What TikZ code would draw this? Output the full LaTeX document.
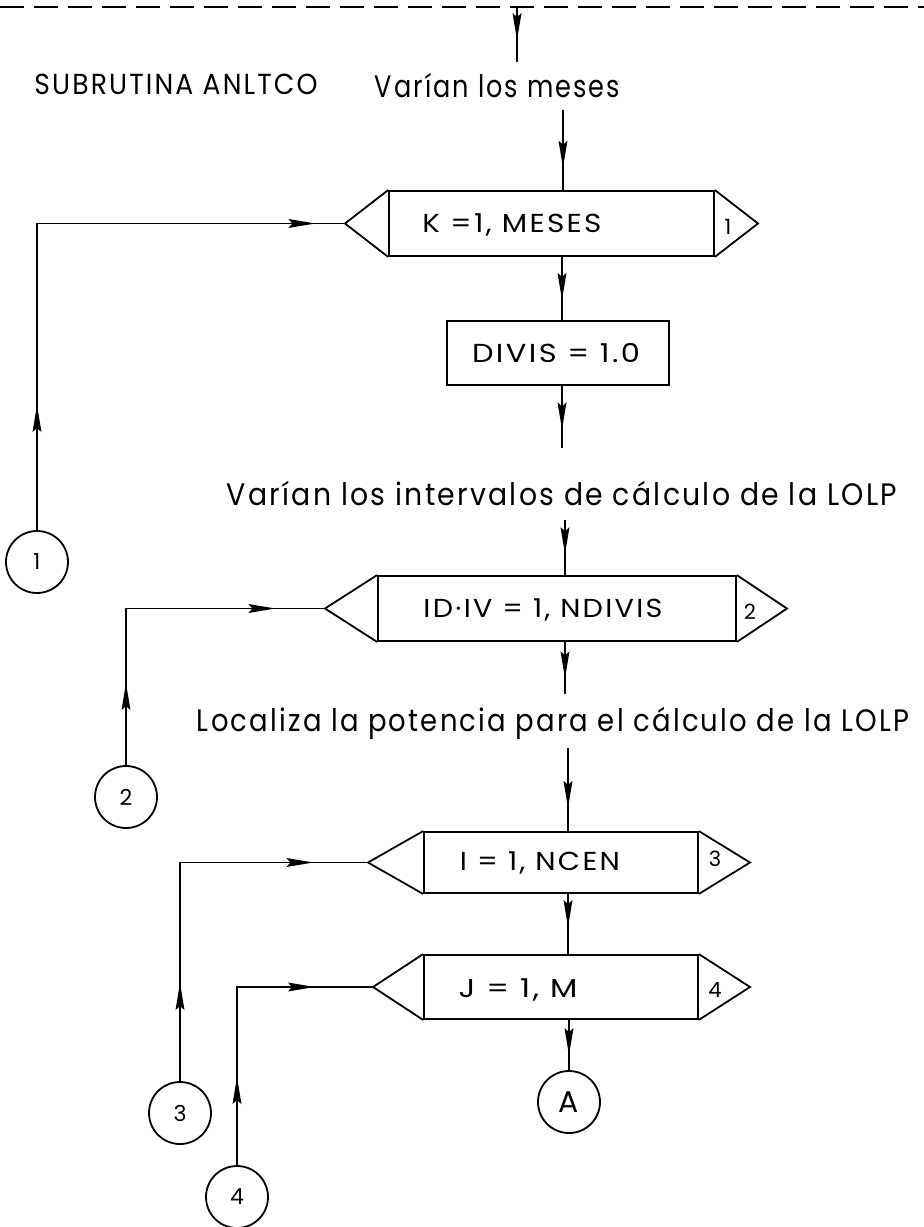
\documentclass[tikz,border=0pt]{standalone}
\usepackage{fontspec}
\usepackage{graphicx}
\usetikzlibrary{arrows.meta,decorations.markings}
\newfontfamily\letr[LetterSpace=8]{Poppins}
\newcommand{\fitw}[2]{\resizebox{#1}{\height}{#2}}

\tikzset{
  x=1pt, y=-1pt,
  line/.style={line width=1.8pt},
  % long narrow flow arrowhead, tip at the marked point
  arrowat/.style={postaction={decorate,decoration={markings,
      mark=at position #1 with {\fill[black] (0pt,0pt) -- (-27pt,4.5pt) -- (-23pt,0pt)
        -- (-27pt,-4.5pt) -- cycle;}}}},
  rectbox/.style={draw, line width=1.8pt, rectangle, inner sep=0pt},
  sentence/.style={inner sep=0pt, font=\letr\fontsize{31}{34}\selectfont},
  boxtext/.style={inner sep=0pt, font=\letr\fontsize{26}{30}\selectfont},
  looplabel/.style={inner sep=0pt, font=\letr\fontsize{21}{24}\selectfont},
  connector/.style={draw, circle, line width=1.8pt, minimum size=62pt, inner sep=0pt,
      font=\letr\fontsize{22}{24}\selectfont},
}

\begin{document}
\begin{tikzpicture}
\useasboundingbox (0,0) rectangle (924,1227);
\fill[white] (0,0) rectangle (924,1227);

% dashed separator and entry arrow
\coordinate (dl) at (0,7);
\coordinate (dr) at (924,7);
\draw[line, dash pattern=on 24pt off 10pt] (dl) -- (dr);
\coordinate (top0) at (517,7);
\coordinate (top1) at (517,62);
\draw[line, arrowat=0.6] (top0) -- (top1);

% headings
\node[inner sep=0pt, font=\letr\fontsize{29}{32}\selectfont] (sub) at (176,84)
  {\fitw{283pt}{SUBRUTINA ANLTCO}};
\node[sentence] (t1) at (497.5,86) {\fitw{245pt}{Varían los meses}};

% loop 1 : K
\node[rectbox, minimum width=325pt, minimum height=65pt] (b1) at (551.5,223.5) {};
\coordinate (b1l) at (345,223.5);
\coordinate (b1r) at (758,223.5);
\draw[line] (b1.north west) -- (b1l) -- (b1.south west);
\draw[line] (b1.north east) -- (b1r) -- (b1.south east);
\node[boxtext] (b1t) at (512,225) {\fitw{179pt}{K =1, MESES}};
\node[looplabel] (b1n) at (728,227) {1};

\coordinate (f1) at (563,110);
\draw[line, arrowat=0.72] (f1) -- (f1 |- b1.north);

% DIVIS
\node[rectbox, minimum width=222pt, minimum height=64pt] (dv) at (558,353) {};
\node[boxtext] (dvt) at (556,353) {\fitw{168pt}{DIVIS = 1.0}};
\coordinate (colA) at (562,0);
\draw[line, arrowat=0.68] (colA |- b1.south) -- (colA |- dv.north);
\coordinate (f2) at (562,448);
\draw[line, arrowat=0.7] (colA |- dv.south) -- (f2);

\node[sentence] (t2) at (562,494) {\fitw{670pt}{Varían los intervalos de cálculo de la LOLP}};

% loop 2 : IDIV
\node[rectbox, minimum width=358pt, minimum height=65pt] (b2) at (557,608.5) {};
\coordinate (b2l) at (325,608.5);
\coordinate (b2r) at (787,608.5);
\draw[line] (b2.north west) -- (b2l) -- (b2.south west);
\draw[line] (b2.north east) -- (b2r) -- (b2.south east);
\node[boxtext] (b2t) at (543,610) {\fitw{239pt}{ID·IV = 1, NDIVIS}};
\node[looplabel] (b2n) at (750,612) {2};

\coordinate (f3) at (565,520);
\draw[line, arrowat=0.62] (f3) -- (f3 |- b2.north);
\coordinate (f4) at (565,694);
\draw[line, arrowat=0.7] (f4 |- b2.south) -- (f4);

\node[sentence] (t3) at (553,723) {\fitw{712pt}{Localiza la potencia para el cálculo de la LOLP}};

% loop 3 : I
\node[rectbox, minimum width=274pt, minimum height=61pt] (b3) at (561,862.5) {};
\coordinate (b3l) at (368,862.5);
\coordinate (b3r) at (750,862.5);
\draw[line] (b3.north west) -- (b3l) -- (b3.south west);
\draw[line] (b3.north east) -- (b3r) -- (b3.south east);
\node[boxtext] (b3t) at (540,863) {\fitw{160pt}{I = 1, NCEN}};
\node[looplabel] (b3n) at (715,859) {3};

\coordinate (f5) at (568,748);
\draw[line, arrowat=0.72] (f5) -- (f5 |- b3.north);

% loop 4 : J
\node[rectbox, minimum width=274pt, minimum height=64pt] (b4) at (561,987) {};
\coordinate (b4l) at (373,987);
\coordinate (b4r) at (750,987);
\draw[line] (b4.north west) -- (b4l) -- (b4.south west);
\draw[line] (b4.north east) -- (b4r) -- (b4.south east);
\node[boxtext] (b4t) at (518,990) {\fitw{119pt}{J = 1, M}};
\node[looplabel] (b4n) at (715,990) {4};

\coordinate (colB) at (568,0);
\draw[line, arrowat=0.55] (colB |- b3.south) -- (colB |- b4.north);

% off-page connector A
\node[connector, font=\letr\fontsize{30}{32}\selectfont] (ca) at (569,1102) {A};
\draw[line, arrowat=0.7] (ca |- b4.south) -- (ca.north);

% return connectors 1-4
\node[connector] (c1) at (37,562) {1};
\node[connector] (c2) at (126,797) {2};
\node[connector] (c3) at (180,1113) {3};
\node[connector] (c4) at (237,1197) {4};

\draw[line, arrowat=125pt, arrowat=585pt] (c1.north) |- (b1l);
\draw[line, arrowat=82pt, arrowat=306pt] (c2.north) |- (b2l);
\draw[line, arrowat=98pt, arrowat=352pt] (c3.north) |- (b3l);
\draw[line, arrowat=88pt, arrowat=256pt] (c4.north) |- (b4l);
\end{tikzpicture}
\end{document}
